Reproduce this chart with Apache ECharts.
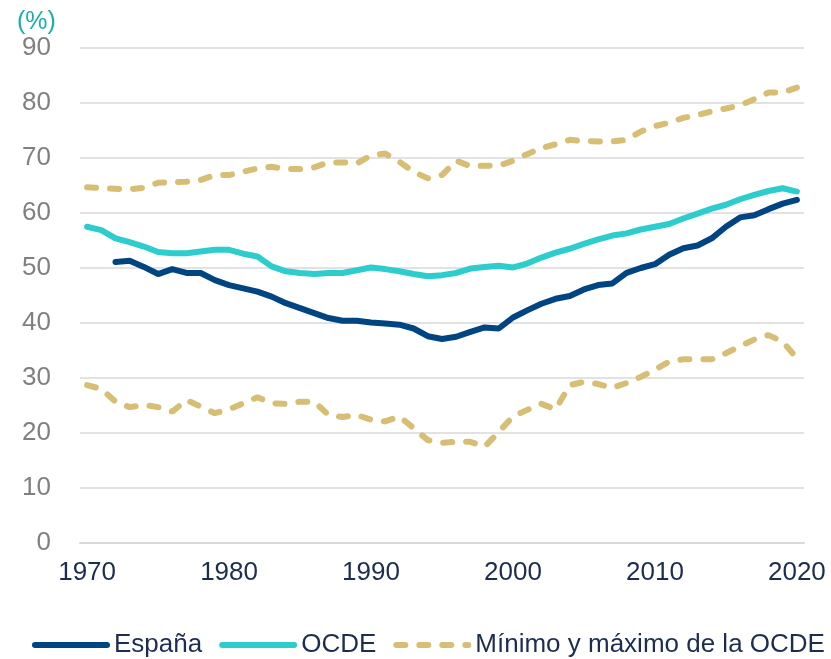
<!DOCTYPE html>
<html>
<head>
<meta charset="utf-8">
<script src="https://cdn.jsdelivr.net/npm/echarts@6/dist/echarts.min.js"></script>
<style>
  html, body { margin: 0; padding: 0; background: #fff; }
  #chart { width: 831px; height: 659px; }
</style>
</head>
<body>
<div id="chart"></div>
<script>
// years 1970..2020
const years = []
for (let y = 1970; y <= 2020; y++) years.push(String(y))

const espana = [
  null, null, 51.1, 51.3, 50.2, 48.9, 49.8, 49.1, 49.1, 47.8,
  46.9, 46.3, 45.7, 44.8, 43.6, 42.7, 41.8, 40.9, 40.4, 40.4,
  40.1, 39.9, 39.7, 39.0, 37.6, 37.1, 37.5, 38.4, 39.2, 39.0,
  41.0, 42.3, 43.5, 44.4, 44.9, 46.1, 46.9, 47.2, 49.1, 50.0,
  50.7, 52.4, 53.6, 54.1, 55.4, 57.5, 59.2, 59.6, 60.7, 61.7,
  62.4
]

const ocde = [
  57.5, 56.9, 55.4, 54.7, 53.9, 52.9, 52.7, 52.7, 53.0, 53.3,
  53.3, 52.6, 52.1, 50.3, 49.4, 49.1, 48.9, 49.1, 49.1, 49.6,
  50.1, 49.8, 49.4, 48.9, 48.5, 48.7, 49.1, 49.9, 50.2, 50.4,
  50.1, 50.8, 51.9, 52.8, 53.5, 54.4, 55.2, 55.9, 56.3, 57.0,
  57.5, 58.0, 59.0, 59.9, 60.8, 61.5, 62.5, 63.3, 64.0, 64.5,
  63.9
]

const ocdeMax = [
  64.7, 64.5, 64.4, 64.3, 64.6, 65.5, 65.6, 65.7, 66.0, 66.9,
  66.9, 67.5, 68.1, 68.4, 68.0, 68.0, 68.3, 69.2, 69.2, 69.0,
  70.5, 70.8, 69.3, 67.5, 66.3, 66.9, 69.5, 68.5, 68.6, 68.6,
  69.5, 70.7, 71.8, 72.5, 73.3, 73.1, 73.0, 73.0, 73.3, 74.8,
  75.8, 76.4, 77.3, 77.8, 78.5, 79.0, 79.6, 80.7, 81.9, 81.9,
  82.8
]

const ocdeMin = [
  28.7, 28.0, 25.7, 24.7, 25.1, 24.7, 23.9, 26.0, 24.8, 23.6,
  24.3, 25.4, 26.5, 25.4, 25.3, 25.7, 25.7, 23.3, 22.9, 23.3,
  22.4, 22.1, 23.0, 20.9, 18.7, 18.2, 18.4, 18.4, 17.5, 20.2,
  23.0, 24.2, 25.3, 24.3, 28.7, 29.3, 28.9, 28.2, 29.1, 30.2,
  31.5, 33.0, 33.4, 33.4, 33.4, 34.5, 35.8, 37.0, 37.8, 36.6,
  33.6
]

const yTicks = [0, 90, 10]
const minMaxName = 'Mínimo y máximo de la OCDE'

const font = '"Liberation Sans", Arial, sans-serif'
const navy = '#004481'
const teal = '#2dcccd'
const sand = '#d8be75'

let chart = echarts.init(document.getElementById('chart'))
chart.setOption({
    animation: false,
    textStyle: { fontFamily: font },
    title: {
        text: '(%)',
        left: 12,
        top: 5,
        textStyle: { color: '#1aaeae', fontSize: 25, fontWeight: 'normal', fontFamily: font }
    },
    legend: {
        bottom: 1,
        left: 32,
        width: 800,
        padding: 0,
        itemWidth: 72,
        itemHeight: 14,
        itemGap: 17,
        itemStyle: { opacity: 0 },
        lineStyle: { width: 6 },
        textStyle: { color: '#1c2d4f', fontSize: 26, fontFamily: font, padding: [0, 0, 0, 2] },
        data: ['España', 'OCDE', minMaxName]
    },
    grid: {
        left: 80,
        right: 27,
        top: 48,
        bottom: 116
    },
    xAxis: {
        type: 'category',
        boundaryGap: true,
        data: years,
        axisLine: { lineStyle: { color: '#d9d9d9', width: 2 } },
        axisTick: { interval: 9, length: 7, lineStyle: { color: '#d9d9d9', width: 1.5 } },
        axisLabel: { interval: 9, color: '#1c2d4f', fontSize: 26, margin: 17 }
    },
    yAxis: {
        type: 'value',
        min: yTicks[0],
        max: yTicks[1],
        interval: yTicks[2],
        axisLine: { show: false },
        axisTick: { show: false },
        axisLabel: { color: '#808080', fontSize: 26, margin: 29 },
        splitLine: { lineStyle: { color: '#d9d9d9', width: 1.5 } }
    },
    series: [
        {
            name: minMaxName,
            type: 'line',
            data: ocdeMax,
            symbol: 'none',
            lineStyle: { color: sand, width: 6, type: [9, 14], cap: 'round' },
            itemStyle: { color: sand }
        },
        {
            name: minMaxName,
            type: 'line',
            data: ocdeMin,
            symbol: 'none',
            lineStyle: { color: sand, width: 6, type: [9, 14], cap: 'round' },
            itemStyle: { color: sand }
        },
        {
            name: 'OCDE',
            type: 'line',
            data: ocde,
            symbol: 'none',
            lineStyle: { color: teal, width: 6, cap: 'round' },
            itemStyle: { color: teal }
        },
        {
            name: 'España',
            type: 'line',
            data: espana,
            symbol: 'none',
            lineStyle: { color: navy, width: 6, cap: 'round' },
            itemStyle: { color: navy }
        }
    ]
})
</script>
</body>
</html>
